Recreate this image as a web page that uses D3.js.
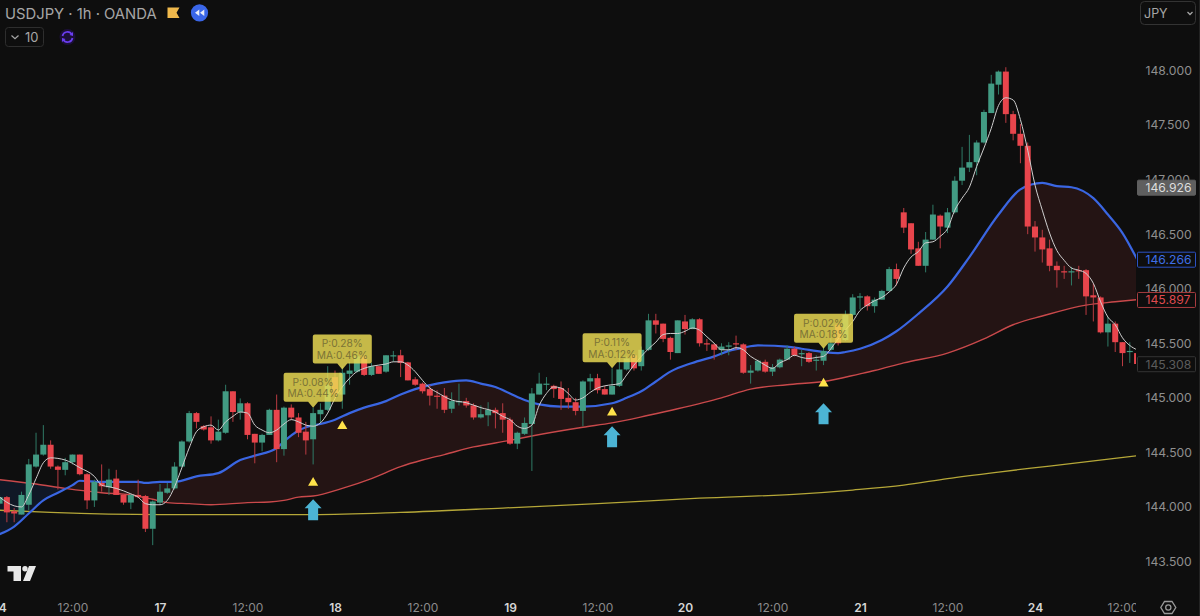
<!DOCTYPE html>
<html>
<head>
<meta charset="utf-8">
<script src="https://cdn.jsdelivr.net/npm/d3@7"></script>
<style>
  html, body { margin: 0; padding: 0; background: #0e0e0e; overflow: hidden; }
  svg { display: block; font-family: "Inter", "Roboto", sans-serif; }
</style>
</head>
<body>
<div id="wrapper"></div>
<script>
// bar numbers count hours from the "17" day tick, first bar is -22
const firstBar = -22

const opens = [
  144.03,144.09,143.96,143.93,144.02,144.37,144.48,144.57,144.37,144.34,
  144.41,144.48,144.30,144.06,144.22,144.18,144.26,144.11,144.04,144.11,
  144.10,143.80,144.04,144.13,144.17,144.37,144.60,144.86,144.74,144.73,
  144.61,144.68,145.06,144.87,144.95,144.67,144.59,144.66,144.89,144.53,
  144.91,144.82,144.69,144.62,144.85,144.89,145.19,145.03,145.22,145.24,
  145.38,145.21,145.29,145.24,145.38,145.39,145.325,145.17,145.13,145.08,
  145.02,145.02,144.90,144.96,144.97,144.93,144.82,144.84,144.89,144.86,
  144.80,144.58,144.67,144.76,145.03,145.12,145.11,145.09,145.00,144.96,
  144.88,145.15,145.18,145.08,145.03,145.11,145.26,145.39,145.29,145.44,
  145.71,145.68,145.55,145.41,145.70,145.63,145.72,145.50,145.49,145.44,
  145.47,145.50,145.49,145.23,145.25,145.33,145.24,145.28,145.35,145.45,
  145.40,145.41,145.34,145.34,145.44,145.67,145.53,145.76,145.92,145.93,
  145.84,145.90,145.98,146.18,146.70,146.60,146.37,146.21,146.45,146.67,
  146.56,146.70,146.99,147.11,147.16,147.34,147.61,147.87,147.99,147.60,
  147.42,147.31,146.57,146.47,146.37,146.21,146.16,146.15,146.17,146.17,
  145.94,145.92,145.60,145.68,145.51,145.42,145.41
]
const highs = [
  144.11,144.10,143.99,144.14,144.44,144.68,144.75,144.61,144.38,144.45,
  144.48,144.48,144.31,144.25,144.39,144.35,144.34,144.12,144.12,144.25,
  144.11,144.06,144.21,144.22,144.41,144.61,144.88,144.87,144.75,144.83,
  144.80,145.12,145.06,144.995,144.96,144.67,144.67,144.90,145.03,144.92,
  144.94,144.86,144.78,144.91,144.95,145.29,145.25,145.29,145.33,145.41,
  145.41,145.32,145.29,145.39,145.43,145.44,145.33,145.19,145.14,145.12,
  145.07,145.09,145.05,145.13,145.00,144.95,144.93,144.96,144.91,144.95,
  144.82,144.69,144.82,145.09,145.23,145.19,145.12,145.15,145.09,145.00,
  145.16,145.22,145.22,145.11,145.27,145.41,145.38,145.41,145.47,145.77,
  145.77,145.68,145.56,145.71,145.76,145.73,145.73,145.54,145.50,145.50,
  145.51,145.57,145.50,145.30,145.35,145.35,145.31,145.36,145.48,145.47,
  145.44,145.42,145.39,145.47,145.55,145.69,145.80,145.95,145.96,145.94,
  145.92,145.99,146.20,146.23,146.74,146.60,146.43,146.52,146.77,146.68,
  146.74,147.03,147.30,147.41,147.36,147.64,147.96,148.00,148.03,147.63,
  147.51,147.34,146.62,146.54,146.45,146.25,146.21,146.20,146.21,146.18,
  146.05,145.93,145.74,145.70,145.51,145.51,145.41
]
const lows = [
  144.02,143.86,143.86,143.93,143.97,144.36,144.47,144.35,144.16,144.29,
  144.39,144.29,143.98,144.00,144.14,144.11,144.11,144.02,143.98,144.08,
  143.77,143.65,144.02,144.12,144.16,144.36,144.59,144.72,144.70,144.58,
  144.60,144.67,144.78,144.80,144.62,144.40,144.51,144.66,144.41,144.47,
  144.80,144.64,144.48,144.39,144.77,144.88,145.00,144.90,145.12,145.23,
  145.20,145.20,145.22,145.23,145.33,145.19,145.16,145.11,145.04,144.93,
  144.90,144.86,144.86,144.93,144.91,144.80,144.81,144.74,144.72,144.68,
  144.57,144.53,144.66,144.33,145.03,145.07,145.00,144.89,144.90,144.84,
  144.74,145.07,145.04,145.03,145.03,145.10,145.25,145.25,145.25,145.43,
  145.59,145.51,145.35,145.41,145.58,145.63,145.47,145.43,145.35,145.39,
  145.39,145.44,145.22,145.13,145.24,145.23,145.20,145.27,145.35,145.38,
  145.29,145.32,145.25,145.30,145.43,145.48,145.52,145.75,145.81,145.80,
  145.78,145.90,145.97,146.03,146.51,146.32,146.21,146.15,146.45,146.37,
  146.51,146.69,146.95,147.07,147.04,147.33,147.61,147.78,147.52,147.36,
  147.15,146.50,146.34,146.24,146.16,146.01,146.09,146.03,146.09,145.76,
  145.70,145.59,145.47,145.42,145.29,145.32,145.31
]
const closes = [
  144.09,143.95,143.94,144.11,144.39,144.48,144.57,144.37,144.34,144.41,
  144.48,144.30,144.06,144.23,144.19,144.25,144.11,144.04,144.11,144.09,
  143.80,144.05,144.14,144.17,144.37,144.60,144.86,144.78,144.71,144.61,
  144.69,145.06,144.87,144.95,144.66,144.59,144.66,144.89,144.53,144.91,
  144.82,144.68,144.61,144.86,144.89,145.12,145.03,145.23,145.25,145.38,
  145.21,145.29,145.22,145.39,145.39,145.32,145.16,145.12,145.06,145.02,
  145.01,144.89,144.97,144.97,144.93,144.82,144.85,144.89,144.86,144.80,
  144.58,144.68,144.77,145.04,145.13,145.13,145.08,144.99,144.96,144.88,
  145.15,145.18,145.07,145.03,145.11,145.26,145.36,145.27,145.44,145.71,
  145.67,145.54,145.42,145.71,145.63,145.72,145.50,145.49,145.44,145.47,
  145.48,145.49,145.23,145.25,145.34,145.24,145.28,145.35,145.45,145.39,
  145.41,145.33,145.35,145.43,145.50,145.50,145.76,145.92,145.93,145.84,
  145.90,145.98,146.18,146.09,146.56,146.36,146.21,146.45,146.68,146.57,
  146.70,146.99,147.11,147.16,147.34,147.62,147.88,147.99,147.60,147.42,
  147.31,146.57,146.47,146.36,146.21,146.17,146.15,146.16,146.165,145.93,
  145.92,145.60,145.68,145.51,145.41,145.43,145.31
]

// indicator lines, read as [bar, price]
const blueLine = [
  [-22,143.75],[-20,143.82],[-18,143.94],[-16,144.06],[-14,144.13],[-12,144.20],[-11,144.24],[-8,144.23],
  [-3,144.23],[-2,144.22],[0,144.23],[2,144.23],[5,144.28],[8,144.31],[11,144.43],[13,144.47],[16,144.54],
  [17,144.60],[19,144.70],[20,144.73],[22,144.76],[24,144.80],[26,144.86],[28,144.91],[31,144.97],[33,145.03],
  [35,145.08],[38,145.13],[40,145.15],[42,145.16],[44,145.13],[46,145.10],[48,145.04],[50,144.98],[52,144.94],
  [55,144.92],[58,144.92],[62,144.95],[64,145.00],[66,145.06],[68,145.15],[70,145.24],[73,145.32],[76,145.38],
  [78,145.43],[80,145.46],[82,145.48],[86,145.47],[88,145.45],[91,145.42],[93,145.41],[94,145.42],[96,145.45],
  [99,145.53],[101,145.61],[104,145.77],[108,146.02],[111,146.29],[115,146.68],[118,146.91],[121,146.97],
  [123,146.94],[125,146.93],[128,146.83],[130,146.68],[132,146.51],[134,146.27]
]
const redLine = [
  [-22,144.25],[-17,144.21],[-13,144.17],[-8,144.13],[-4,144.11],[-1,144.07],[1,144.04],[4,144.03],[7,144.02],
  [12,144.04],[15,144.045],[17,144.06],[19,144.09],[21,144.10],[25,144.17],[29,144.26],[33,144.37],[36,144.43],
  [39,144.48],[43,144.55],[48,144.61],[51,144.65],[58,144.73],[62,144.77],[67,144.84],[71,144.90],[77,145.00],
  [81,145.08],[86,145.12],[91,145.15],[96,145.22],[98,145.25],[102,145.32],[108,145.41],[113,145.54],[117,145.67],
  [121,145.75],[127,145.85],[131,145.88],[134,145.90]
]
const yellowLine = [
  [-22,143.97],[-15,143.95],[0,143.93],[21,143.93],[33,143.95],[47,143.99],[60,144.03],[74,144.08],[88,144.12],
  [95,144.155],[102,144.20],[108,144.26],[115,144.32],[122,144.375],[134,144.47]
]
const whiteLine = [
  [-22,144.09],[-20,144.01],[-19,144.00],[-18,144.11],[-17,144.26],[-16,144.405],[-15,144.45],[-13,144.43],
  [-11,144.36],[-9,144.28],[-8,144.20],[-7,144.185],[-6,144.17],[-4,144.12],[-3,144.09],[-2,144.03],[-1,144.02],
  [0,144.02],[1,144.06],[2,144.185],[3,144.36],[4,144.54],[5,144.69],[6,144.735],[7,144.75],[8,144.705],[9,144.78],
  [10,144.83],[11,144.87],[12,144.86],[13,144.75],[14,144.705],[15,144.68],[16,144.705],[17,144.76],[18,144.80],
  [19,144.78],[20,144.75],[21,144.74],[22,144.77],[23,144.86],[24,144.995],[25,145.10],[26,145.18],[27,145.24],
  [28,145.27],[29,145.29],[31,145.31],[32,145.33],[33,145.33],[34,145.30],[35,145.24],[36,145.16],[37,145.09],
  [38,145.05],[40,144.98],[42,144.955],[44,144.91],[46,144.87],[47,144.83],[48,144.80],[49,144.74],[50,144.72],
  [51,144.75],[52,144.93],[53,145.04],[54,145.10],[55,145.09],[56,145.04],[57,144.98],[58,145.00],[59,145.05],
  [60,145.09],[61,145.11],[62,145.12],[63,145.13],[64,145.21],[65,145.30],[66,145.38],[67,145.45],[68,145.51],
  [69,145.58],[70,145.59],[71,145.59],[72,145.61],[73,145.64],[74,145.62],[75,145.56],[76,145.50],[77,145.44],
  [78,145.44],[79,145.46],[80,145.44],[81,145.38],[82,145.34],[83,145.30],[84,145.27],[85,145.32],[86,145.35],
  [87,145.39],[88,145.37],[89,145.36],[90,145.37],[91,145.38],[92,145.45],[93,145.54],[94,145.62],[95,145.70],
  [96,145.80],[97,145.85],[98,145.89],[99,145.92],[100,145.97],[101,146.04],[102,146.19],[103,146.29],[104,146.34],
  [105,146.42],[106,146.43],[107,146.48],[108,146.55],[109,146.72],[110,146.83],[111,146.93],[112,147.12],
  [113,147.29],[114,147.47],[115,147.68],[116,147.75],[117,147.73],[118,147.55],[119,147.27],[120,146.95],
  [121,146.72],[122,146.51],[123,146.35],[124,146.26],[125,146.19],[126,146.17],[127,146.14],[128,146.05],
  [129,145.88],[130,145.74],[131,145.67],[132,145.55],[133,145.48],[134,145.44]
]

// signals
const tooltipBars = [21, 25, 62, 91]
const tooltipTips = [144.91, 145.26, 145.27, 145.45]
const tooltipP = ["P:0.08%", "P:0.28%", "P:0.11%", "P:0.02%"]
const tooltipMA = ["MA:0.44%", "MA:0.46%", "MA:0.12%", "MA:0.18%"]
const triangleBars = [21, 25, 62, 91]
const trianglePrices = [144.22, 144.74, 144.865, 145.13]
const arrowBars = [21, 62, 91]
const arrowPrices = [144.07, 144.74, 144.95]

// axes
const priceTicks = [143.5, 144, 144.5, 145, 145.5, 146, 146.5, 147, 147.5, 148]
const timeBars = [-22, -12, 0, 12, 24, 36, 48, 60, 72, 84, 96, 108, 120, 132]
const timeLabels = ["14", "12:00", "17", "12:00", "18", "12:00", "19", "12:00", "20", "12:00", "21", "12:00", "24", "12:00"]

// last value labels
const lastValues = [146.926, 146.266, 145.897, 145.308]
const lastFills = ["#5f5f5f", "#0e0e0e", "#0e0e0e", "#0e0e0e"]
const lastStrokes = ["#5f5f5f", "#2c52c4", "#a83c3f", "#353535"]
const lastTexts = ["#dcdcdc", "#3f6fe6", "#de4a4f", "#5c5c5c"]

const width = 1200
const height = 616
const paneRight = 1136

const green = "#429b83"
const red = "#e8454c"

const bars = opens.map((o, i) => ({
  bar: firstBar + i, open: o, high: highs[i], low: lows[i], close: closes[i]
}))

const xScale = d3.scaleLinear().domain([0, 120]).range([160, 1035])
const yScale = d3.scaleLinear().domain([143.5, 148]).range([561.5, 70.5])

const svg = d3.select("#wrapper").append("svg")
  .attr("width", width)
  .attr("height", height)

svg.append("rect").attr("width", width).attr("height", height).attr("fill", "#0e0e0e")

const defs = svg.append("defs")
defs.append("clipPath").attr("id", "pane")
  .append("rect").attr("width", paneRight).attr("height", height)

const area = d3.curveMonotoneX
defs.append("clipPath").attr("id", "above-red").append("path")
  .attr("d", d3.area().curve(area).x(d => xScale(d[0])).y0(0).y1(d => yScale(d[1]))(redLine))
defs.append("clipPath").attr("id", "above-blue").append("path")
  .attr("d", d3.area().curve(area).x(d => xScale(d[0])).y0(0).y1(d => yScale(d[1]))(blueLine))

const pane = svg.append("g").attr("clip-path", "url(#pane)")

// cloud between the two averages
pane.append("g").attr("clip-path", "url(#above-red)").append("path")
  .attr("d", d3.area().curve(area).x(d => xScale(d[0])).y0(height).y1(d => yScale(d[1]))(blueLine))
  .attr("fill", "#241414")
pane.append("g").attr("clip-path", "url(#above-blue)").append("path")
  .attr("d", d3.area().curve(area).x(d => xScale(d[0])).y0(height).y1(d => yScale(d[1]))(redLine))
  .attr("fill", "#101826")

const line = d3.line().curve(area).x(d => xScale(d[0])).y(d => yScale(d[1]))

pane.append("path").attr("d", line(yellowLine)).attr("fill", "none").attr("stroke", "#b5a738").attr("stroke-width", 1.3)
pane.append("path").attr("d", line(redLine)).attr("fill", "none").attr("stroke", "#c9494b").attr("stroke-width", 1.4)
pane.append("path").attr("d", line(blueLine)).attr("fill", "none").attr("stroke", "#3a66e2").attr("stroke-width", 2.2)

// candles
const candles = pane.append("g").selectAll("g").data(bars).enter().append("g")
candles.append("line")
  .attr("x1", d => xScale(d.bar)).attr("x2", d => xScale(d.bar))
  .attr("y1", d => yScale(d.high)).attr("y2", d => yScale(d.low))
  .attr("stroke", d => d.close >= d.open ? "#2f7a66" : "#b93b42")
  .attr("stroke-width", 1)
candles.append("rect")
  .attr("x", d => xScale(d.bar) - 3)
  .attr("width", 6)
  .attr("y", d => yScale(Math.max(d.open, d.close)))
  .attr("height", d => Math.max(1.2, Math.abs(yScale(d.open) - yScale(d.close))))
  .attr("fill", d => d.close >= d.open ? green : red)

pane.append("path").attr("d", line(whiteLine)).attr("fill", "none").attr("stroke", "#cfcfcf").attr("stroke-width", 1)

// entry markers
pane.selectAll(".tri").data(triangleBars).enter().append("path")
  .attr("class", "tri")
  .attr("d", d3.symbol().type(d3.symbolTriangle).size(44))
  .attr("transform", (d, i) => `translate(${xScale(d)},${yScale(trianglePrices[i])})`)
  .attr("fill", "#ffe24a")

pane.selectAll(".arrow").data(arrowBars).enter().append("path")
  .attr("class", "arrow")
  .attr("d", "M0,0L8.5,9L5,9L5,21L-5,21L-5,9L-8.5,9Z")
  .attr("transform", (d, i) => `translate(${xScale(d)},${yScale(arrowPrices[i])})`)
  .attr("fill", "#4cb4d4")

// tooltips
const tips = pane.selectAll(".tip").data(tooltipBars).enter().append("g")
  .attr("class", "tip")
  .attr("transform", (d, i) => `translate(${xScale(d)},${yScale(tooltipTips[i])})`)
tips.append("path")
  .attr("d", "M0,0L-5,-6L-27.5,-6Q-29.5,-6 -29.5,-8L-29.5,-33Q-29.5,-35 -27.5,-35L27.5,-35Q29.5,-35 29.5,-33L29.5,-8Q29.5,-6 27.5,-6L5,-6Z")
  .attr("fill", "rgba(234,218,84,0.84)")
tips.append("text").attr("text-anchor", "middle").attr("y", -22)
  .attr("font-size", 10.2).attr("fill", "#7b7336")
  .text((d, i) => tooltipP[i])
tips.append("text").attr("text-anchor", "middle").attr("y", -10.5)
  .attr("font-size", 10.2).attr("fill", "#7b7336")
  .text((d, i) => tooltipMA[i])

// price axis
const yAxis = svg.append("g")
  .attr("transform", `translate(1145.5,0)`)
  .call(d3.axisRight(yScale).tickValues(priceTicks).tickFormat(d3.format(".3f")).tickSize(0).tickPadding(0))
yAxis.select(".domain").remove()
yAxis.selectAll("text").attr("font-size", 12.2).attr("fill", "#8f8f8f").attr("font-family", "Inter")

// last value boxes
const lastBoxes = svg.selectAll(".last").data(lastValues).enter().append("g")
  .attr("class", "last")
  .attr("transform", d => `translate(1137,${yScale(d)})`)
lastBoxes.append("rect")
  .attr("x", 0.5).attr("y", -7.5).attr("width", 58).attr("height", 15).attr("rx", 1)
  .attr("fill", (d, i) => lastFills[i]).attr("stroke", (d, i) => lastStrokes[i])
lastBoxes.append("text")
  .attr("x", 8.5).attr("y", 4.4).attr("font-size", 12.2)
  .attr("fill", (d, i) => lastTexts[i])
  .text(d => d.toFixed(3))

// time axis, cut off at the pane edge like the price scale does
const timeAxis = svg.append("g").attr("clip-path", "url(#pane)")
  .append("g").attr("transform", "translate(0,600)")
  .call(d3.axisBottom(xScale).tickValues(timeBars).tickFormat((d, i) => timeLabels[i]).tickSize(0).tickPadding(3))
timeAxis.select(".domain").remove()
timeAxis.selectAll("text")
  .attr("font-size", 12)
  .attr("font-family", "Inter")
  .attr("fill", (d, i) => timeLabels[i].includes(":") ? "#8b8b8b" : "#d6d6d6")
  .attr("font-weight", (d, i) => timeLabels[i].includes(":") ? 400 : 600)

// header
svg.append("text").attr("x", 5).attr("y", 18.5).attr("font-size", 14.8).attr("fill", "#a6a6a6")
  .text("USDJPY · 1h · OANDA")
svg.append("path").attr("d", "M167.5,7.5L179.5,7.5L176.5,12.8L179.5,18L167.5,18Z").attr("fill", "#f0b94c")
svg.append("circle").attr("cx", 199.5).attr("cy", 12.8).attr("r", 8.6).attr("fill", "#3a66e8")
svg.append("path").attr("d", "M199.3,9.5L199.3,16L195,12.8Z M204.3,9.5L204.3,16L200,12.8Z").attr("fill", "#e8ecf8")

svg.append("rect").attr("x", 5.5).attr("y", 27.5).attr("width", 38).attr("height", 19).attr("rx", 3)
  .attr("fill", "none").attr("stroke", "#2e2e2e")
svg.append("path").attr("d", "M11.5,35.5L15,38.8L18.5,35.5").attr("fill", "none").attr("stroke", "#a6a6a6").attr("stroke-width", 1.2)
svg.append("text").attr("x", 25).attr("y", 42).attr("font-size", 13).attr("fill", "#a6a6a6").text("10")

// refresh icon
svg.append("circle").attr("cx", 67.5).attr("cy", 37).attr("r", 8).attr("fill", "#1c1038")
svg.append("path").attr("d", "M62.5,36A5,5 0 0 1 71.8,34.5 M72.5,38A5,5 0 0 1 63.2,39.5")
  .attr("fill", "none").attr("stroke", "#6a3df0").attr("stroke-width", 1.7)
svg.append("path").attr("d", "M73,32L73,36L69.5,35Z M62,42L62,38L65.5,39Z").attr("fill", "#6a3df0")

// currency button
svg.append("rect").attr("x", 1140.5).attr("y", 1.5).attr("width", 55).attr("height", 23).attr("rx", 4)
  .attr("fill", "none").attr("stroke", "#333")
svg.append("text").attr("x", 1144).attr("y", 17.5).attr("font-size", 12.5).attr("fill", "#a6a6a6").text("JPY")
svg.append("path").attr("d", "M1187.5,12L1190,14.5L1192.5,12").attr("fill", "none").attr("stroke", "#a6a6a6").attr("stroke-width", 1.3)

// logo
svg.append("path").attr("d", "M7.5,566L21,566L21,581L13.5,581L13.5,571.5L7.5,571.5Z M29,566L36,566L30,581L23,581Z").attr("fill", "#e8e8e8")
svg.append("circle").attr("cx", 25).attr("cy", 568.7).attr("r", 2.7).attr("fill", "#e8e8e8")

// settings hexagon
svg.append("path").attr("d", "M1164.5,601.5L1172,601.5L1175.8,607.5L1172,613.5L1164.5,613.5L1160.8,607.5Z")
  .attr("fill", "none").attr("stroke", "#9a9a9a").attr("stroke-width", 1.3)
svg.append("circle").attr("cx", 1168.3).attr("cy", 607.5).attr("r", 2.6).attr("fill", "none").attr("stroke", "#9a9a9a").attr("stroke-width", 1.3)

// right edge of the widget
svg.append("line").attr("x1", 1199.5).attr("x2", 1199.5).attr("y1", 0).attr("y2", height).attr("stroke", "#232323")
</script>
</body>
</html>
